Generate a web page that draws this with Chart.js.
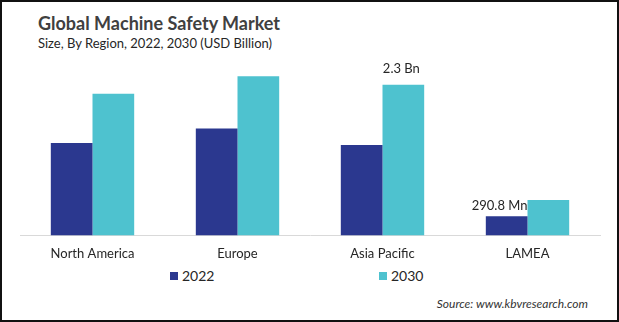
<!DOCTYPE html>
<html>
<head>
<meta charset="utf-8">
<script src="https://cdn.jsdelivr.net/npm/chart.js@4/dist/chart.umd.min.js"></script>
<style>
  html, body { margin: 0; padding: 0; background: #fff; }
  #frame {
    position: relative; width: 619px; height: 322px;
    box-sizing: border-box; border: 2px solid #111; overflow: hidden;
    font-family: Lato, "Open Sans", sans-serif; color: #262626;
  }
  #title { position: absolute; left: 36px; top: 10px; font-size: 18px; font-weight: bold; color: #404040; }
  #subtitle { position: absolute; left: 36px; top: 33px; font-size: 13px; }
  #wrap { position: absolute; left: -2px; top: -2px; width: 619px; height: 265px; }
  #legend { position: absolute; top: 265px; left: 0; width: 619px; height: 16px; font-size: 14px; }
  .item { position: absolute; display: flex; align-items: center; }
  .item span.box { width: 8px; height: 8px; margin-right: 4px; }
  #source { position: absolute; right: 29px; top: 294px; font-size: 12px; font-style: italic; color: #333; }
</style>
</head>
<body>
<div id="frame">
  <div id="title">Global Machine Safety Market</div>
  <div id="subtitle">Size, By Region, 2022, 2030 (USD Billion)</div>
  <div id="wrap"><canvas id="chart"></canvas></div>
  <div id="legend"></div>
  <div id="source">Source: www.kbvresearch.com</div>
</div>
<script>
// Regions and market size (USD Billion)
const regions = ["North America", "Europe", "Asia Pacific", "LAMEA"];
const years = ["2022", "2030"];
const size2022 = [1.41, 1.63, 1.38, 0.2908];
const size2030 = [2.16, 2.43, 2.3, 0.54];
const colors = ["#2b388f", "#4ec2cf"];

// Bars that get a value label: [dataset index, category index]
const labelled = [[1, 2], [0, 3]];

function fmtValue(v) {
  return v >= 1 ? `${v} Bn` : `${+(v * 1000).toFixed(1)} Mn`;
}

const valueLabels = {
  id: "valueLabels",
  afterDatasetsDraw(chart) {
    const { ctx } = chart;
    ctx.save();
    ctx.font = "13px Lato, 'Open Sans', sans-serif";
    ctx.fillStyle = "#262626";
    ctx.textBaseline = "middle";
    labelled.forEach(([ds, i]) => {
      const bar = chart.getDatasetMeta(ds).data[i];
      const v = chart.data.datasets[ds].data[i];
      if (ds === 1) {
        ctx.textAlign = "center";
        ctx.fillText(fmtValue(v), bar.x - 2, bar.y - 16);
      } else {
        ctx.textAlign = "right";
        ctx.fillText(fmtValue(v), bar.x + bar.width / 2, bar.y - 11);
      }
    });
    ctx.restore();
  }
};

const chart = new Chart(document.getElementById("chart"), {
  type: "bar",
  data: {
    labels: regions,
    datasets: [
      { label: years[0], data: size2022, backgroundColor: colors[0] },
      { label: years[1], data: size2030, backgroundColor: colors[1] }
    ]
  },
  options: {
    responsive: true,
    maintainAspectRatio: false,
    animation: false,
    layout: { padding: { left: 20, right: 19, top: 65, bottom: 0 } },
    datasets: { bar: { barPercentage: 1, categoryPercentage: 0.575 } },
    plugins: { legend: { display: false }, tooltip: { enabled: false } },
    scales: {
      x: {
        grid: { display: false },
        border: { display: true, color: "#d9d9d9", width: 1 },
        ticks: { color: "#262626", padding: 3, font: { family: "Lato, 'Open Sans', sans-serif", size: 13 } }
      },
      y: { display: false, min: 0, max: 2.6 }
    }
  },
  plugins: [valueLabels]
});

// legend built from the datasets
const legendX = [168, 377];
const legend = document.getElementById("legend");
chart.data.datasets.forEach((d, i) => {
  const el = document.createElement("div");
  el.className = "item";
  el.style.left = legendX[i] + "px";
  el.innerHTML = `<span class="box" style="background:${d.backgroundColor}"></span>${d.label}`;
  legend.appendChild(el);
});
</script>
</body>
</html>
